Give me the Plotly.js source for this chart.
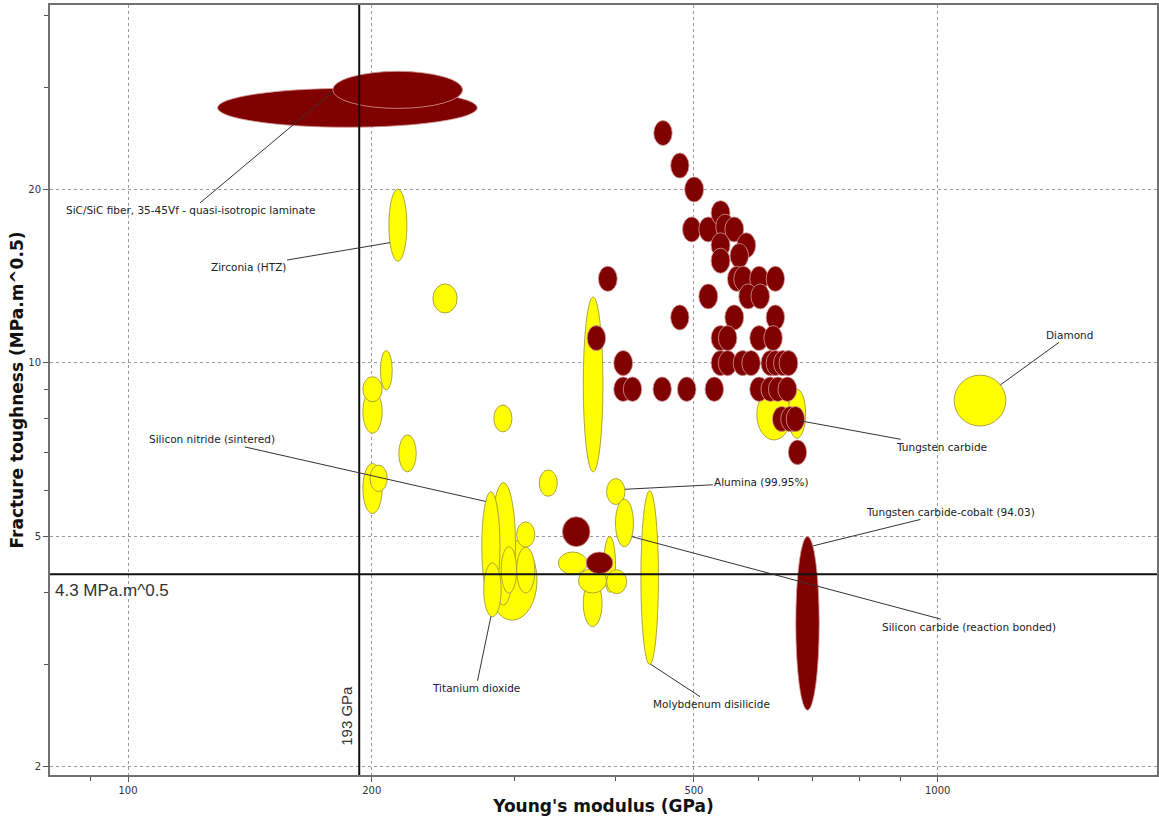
<!DOCTYPE html>
<html><head><meta charset="utf-8">
<script src="https://cdn.plot.ly/plotly-3.0.1.min.js"></script>
<style>html,body{margin:0;padding:0;background:#fff}#chart{width:1159px;height:823px}</style>
</head><body><div id="chart"></div>
<script>
// ---- Yellow family (Young's modulus GPa, fracture toughness MPa.m^0.5) ----
const yellowName = ['Zirconia (HTZ)','','','','','','','','','','','Alumina (99.95%)','Silicon carbide (reaction bonded)','Molybdenum disilicide','','','Silicon nitride (sintered)','','','','Titanium dioxide','','','','','','','','Diamond'];
const yellowEmin = [210,238,205,195,195,216,195,199,283,365,322,390,400,430,278,281,273.5,289,302,302,275,365,387,340,360,390,598,654,1048];
const yellowEmax = [221,255,212,206,206,227,206,209,298,386,339,411,421,452,320,301,288,302,318,318,289,385,400,369,390,413,659,687,1214];
const yellowKmin = [15,12.2,8.97,7.55,8.56,6.47,5.48,5.98,7.59,6.47,5.87,5.68,4.8,3.0,3.58,3.8,3.88,3.99,4.79,3.99,3.63,3.49,4.0,4.3,3.99,3.98,7.35,7.4,7.77];
const yellowKmax = [20,13.7,10.5,8.97,9.46,7.5,6.69,6.65,8.45,13.0,6.52,6.3,5.8,6.0,4.93,6.2,5.98,4.8,5.3,4.79,4.5,4.2,5.0,4.7,4.4,4.38,9.0,9.0,9.52];

// ---- Dark red family ----
const redName = ['','SiC/SiC fiber, 35-45Vf - quasi-isotropic laminate','','','','','','','','','','','','','','','','','','','','','','','','','','','','','','','','','','','','','','','','','','','','','','','','','Tungsten carbide','','','','Tungsten carbide-cobalt (94.03)'];
const redEmin = [129,179,446,468,487,484,507,525,532,546,525,565,525,554,550,560,586,614,568,588,507,381,468,546,614,369,525,536,586,610,398,525,536,559,573,605,614,627,637,398,409,445,477,516,586,605,618,635,625,640,650,654,344,368,668];
const redEmax = [270,259,470,493,514,510,535,554,561,576,554,596,554,584,580,591,618,647,599,620,535,402,493,576,647,389,554,565,618,643,420,554,565,590,604,638,647,661,672,420,431,469,503,544,618,638,652,670,659,675,685,689,372,397,714];
const redKmin = [25.6,27.6,23.8,20.9,19.0,16.2,16.2,17.3,16.4,16.2,15.2,15.2,14.3,14.6,13.3,13.3,13.3,13.3,12.4,12.4,12.4,13.3,11.4,11.4,11.4,10.5,10.5,10.5,10.5,10.5,9.5,9.5,9.5,9.5,9.5,9.5,9.5,9.5,9.5,8.57,8.57,8.57,8.57,8.57,8.57,8.57,8.57,8.57,7.6,7.6,7.6,6.66,4.8,4.31,2.5];
const redKmax = [29.9,32.0,26.3,23.1,21.0,17.9,17.9,19.1,18.1,17.9,16.8,16.8,15.8,16.1,14.7,14.7,14.7,14.7,13.7,13.7,13.7,14.7,12.6,12.6,12.6,11.6,11.6,11.6,11.6,11.6,10.5,10.5,10.5,10.5,10.5,10.5,10.5,10.5,10.5,9.45,9.45,9.45,9.45,9.45,9.45,9.45,9.45,9.45,8.4,8.4,8.4,7.35,5.41,4.70,5.0];

// ---- Reference limits ----
const limitModulus = 193;     // GPa
const limitToughness = 4.3;   // MPa.m^0.5

// ---- Axis ticks ----
const xTickVals = [100,200,500,1000];
const xMinorVals = [90,300,400,600,700,800,900];
const yTickVals = [2,5,10,20];
const yMinorVals = [3,4,6,7,8,9,30,40];

// ---- Label placement (layout, not data) ----
const labelText  = ['SiC/SiC fiber, 35-45Vf - quasi-isotropic laminate','Zirconia (HTZ)','Silicon nitride (sintered)','Alumina (99.95%)','Tungsten carbide','Diamond','Tungsten carbide-cobalt (94.03)','Silicon carbide (reaction bonded)','Titanium dioxide','Molybdenum disilicide'];
const labelAngle = [185,209,125,10,-15,38,63,-35,-100,-85];
const labelReach = [1,1,1,1,0.55,1,1,1,1,1];
const labelDx    = [-142,-142,-274,137,141,69,138,337,-15,61];
const labelDy    = [119,24,-62,-7,26,-50,-34,90,72,40];

const L = Math.log10;
const shapes = [];
function addFamily(emin, emax, kmin, kmax, fill, edge, w) {
  for (let i = 0; i < emin.length; i++) {
    shapes.push({type:'circle', xref:'x', yref:'y', x0:emin[i], x1:emax[i], y0:kmin[i], y1:kmax[i],
      fillcolor:fill, line:{color:edge, width:w}, layer:'above'});
  }
}
addFamily(yellowEmin, yellowEmax, yellowKmin, yellowKmax, '#ffff00', '#a39a3c', 0.9);
addFamily(redEmin, redEmax, redKmin, redKmax, '#800000', '#d49a9a', 0.8);
shapes.push({type:'line', xref:'x', yref:'paper', x0:limitModulus, x1:limitModulus, y0:0, y1:1, line:{color:'#111', width:2}});
shapes.push({type:'line', xref:'paper', yref:'y', x0:0, x1:1, y0:limitToughness, y1:limitToughness, line:{color:'#111', width:2}});

function findMat(name) {
  let i = yellowName.indexOf(name);
  if (i >= 0) return [yellowEmin[i], yellowEmax[i], yellowKmin[i], yellowKmax[i]];
  i = redName.indexOf(name);
  return [redEmin[i], redEmax[i], redKmin[i], redKmax[i]];
}
const labelFont = {family:'DejaVu Sans', size:10.5, color:'#222'};
const annotations = labelText.map((t, j) => {
  const m = findMat(t);
  const cx = (L(m[0]) + L(m[1])) / 2, hx = (L(m[1]) - L(m[0])) / 2;
  const cy = (L(m[2]) + L(m[3])) / 2, hy = (L(m[3]) - L(m[2])) / 2;
  const a = labelAngle[j] * Math.PI / 180, r = labelReach[j];
  return {xref:'x', yref:'y', x: cx + r*Math.cos(a)*hx, y: cy + r*Math.sin(a)*hy,
    ax: labelDx[j], ay: labelDy[j], text: t, showarrow: true, arrowhead: 0, arrowwidth: 1,
    arrowcolor: '#333', standoff: 0, startstandoff: 0, font: labelFont};
});
annotations.push({xref:'x', yref:'paper', x:L(limitModulus), y:0.035, xanchor:'right', yanchor:'bottom', xshift:-3,
  textangle:-90, text: limitModulus + ' GPa', showarrow:false, font:{family:'Liberation Sans', size:15, color:'#333'}});
annotations.push({xref:'paper', yref:'y', x:0, y:L(limitToughness), xanchor:'left', yanchor:'top', xshift:3, yshift:-5,
  text: limitToughness + ' MPa.m^0.5', showarrow:false, font:{family:'Liberation Sans', size:17, color:'#333'}});

const tickFont = {family:'DejaVu Sans', size:10, color:'#333'};
const titleFont = {family:'DejaVu Sans', size:17, color:'#111', weight:'bold'};
const gridStyle = {showgrid:true, gridcolor:'#9a9a9a', griddash:'3px,3px', gridwidth:1, zeroline:false,
  showline:true, linecolor:'#707070', linewidth:2, mirror:true, ticks:'outside', ticklen:5, tickcolor:'#555', tickfont:tickFont};
const layout = {
  width:1159, height:823, paper_bgcolor:'#fff', plot_bgcolor:'#fff',
  margin:{l:50, r:2, t:5, b:48}, showlegend:false,
  xaxis:Object.assign({type:'log', range:[L(80.1), L(1866)], tickvals:xTickVals, ticktext:xTickVals.map(String),
    minor:{tickmode:'array', tickvals:xMinorVals, ticks:'outside', ticklen:4, tickcolor:'#555', showgrid:false},
    title:{text:"Young's modulus (GPa)", font:titleFont, standoff:3}, automargin:false}, gridStyle),
  yaxis:Object.assign({type:'log', range:[L(1.93), L(41.7)], tickvals:yTickVals, ticktext:yTickVals.map(String),
    minor:{tickmode:'array', tickvals:yMinorVals, ticks:'outside', ticklen:4, tickcolor:'#555', showgrid:false},
    title:{text:'Fracture toughness (MPa.m^0.5)', font:titleFont, standoff:0}, automargin:false}, gridStyle),
  shapes: shapes, annotations: annotations
};
Plotly.newPlot('chart', [], layout, {displayModeBar:false, staticPlot:true});
</script>
</body></html>
